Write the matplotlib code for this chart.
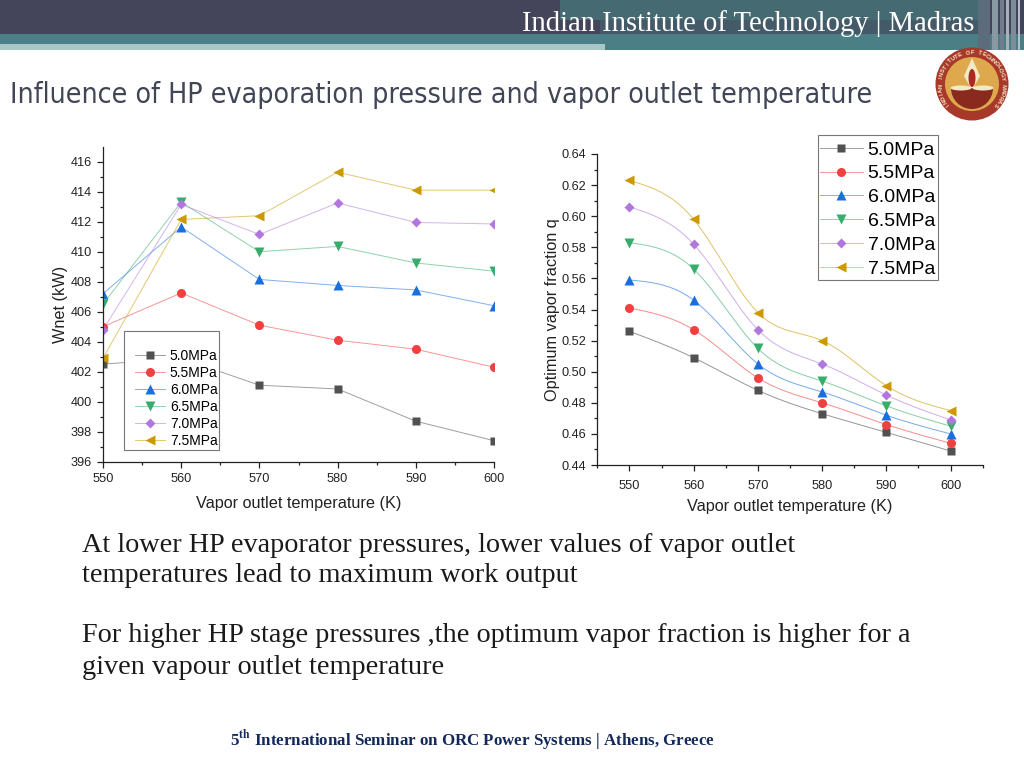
import numpy as np
import matplotlib
matplotlib.use('Agg')
import matplotlib.pyplot as plt
from matplotlib.colors import to_rgba
from matplotlib.patches import Rectangle, Ellipse, Wedge, Polygon

temps = [550, 560, 570, 580, 590, 600]
labels = ['5.0MPa', '5.5MPa', '6.0MPa', '6.5MPa', '7.0MPa', '7.5MPa']
colors = ['#515151', '#F14040', '#1A6FDF', '#37AD6B', '#B177DE', '#CC9900']
markers = ['s', 'o', '^', 'v', 'D', '<']
sizes = [5.5, 6.5, 6.5, 6.5, 5.5, 6.5]

# left chart, net work
wnet_50 = [402.5, 402.9, 401.1, 400.85, 398.7, 397.4]
wnet_55 = [405.0, 407.25, 405.1, 404.1, 403.5, 402.3]
wnet_60 = [407.2, 411.65, 408.15, 407.75, 407.45, 406.4]
wnet_65 = [406.5, 413.3, 410.0, 410.35, 409.25, 408.7]
wnet_70 = [404.8, 413.15, 411.15, 413.25, 411.95, 411.85]
wnet_75 = [402.9, 412.15, 412.4, 415.3, 414.1, 414.1]
wnet = [wnet_50, wnet_55, wnet_60, wnet_65, wnet_70, wnet_75]

# right chart, optimum vapor fraction
q_50 = [0.526, 0.509, 0.488, 0.473, 0.461, 0.449]
q_55 = [0.541, 0.527, 0.496, 0.480, 0.466, 0.454]
q_60 = [0.559, 0.546, 0.505, 0.487, 0.472, 0.460]
q_65 = [0.583, 0.566, 0.515, 0.494, 0.478, 0.465]
q_70 = [0.606, 0.582, 0.527, 0.505, 0.485, 0.469]
q_75 = [0.623, 0.598, 0.538, 0.520, 0.491, 0.475]
q = [q_50, q_55, q_60, q_65, q_70, q_75]

W, H = 1024, 768
SANS = 'Liberation Sans'
SERIF = 'Liberation Serif'


def px_axes(fig, left, right, top, bottom):
    return fig.add_axes([left / W, 1 - bottom / H, (right - left) / W, (bottom - top) / H])


def spline(x, y, n=200):
    # natural cubic spline for the smoothed lines of the right chart
    x = np.array(x, float)
    y = np.array(y, float)
    h = np.diff(x)
    A = np.zeros((len(x), len(x)))
    b = np.zeros(len(x))
    A[0, 0] = A[-1, -1] = 1
    for i in range(1, len(x) - 1):
        A[i, i - 1:i + 2] = h[i - 1], 2 * (h[i - 1] + h[i]), h[i]
        b[i] = 6 * ((y[i + 1] - y[i]) / h[i] - (y[i] - y[i - 1]) / h[i - 1])
    m = np.linalg.solve(A, b)
    xs = np.linspace(x[0], x[-1], n)
    k = np.clip(np.searchsorted(x, xs) - 1, 0, len(h) - 1)
    t0 = x[k + 1] - xs
    t1 = xs - x[k]
    ys = (m[k] * t0**3 + m[k + 1] * t1**3) / (6 * h[k]) \
        + (y[k] / h[k] - m[k] * h[k] / 6) * t0 + (y[k + 1] / h[k] - m[k + 1] * h[k] / 6) * t1
    return xs, ys


def style_axis(ax):
    ax.spines['top'].set_visible(False)
    ax.spines['right'].set_visible(False)
    for s in ['left', 'bottom']:
        ax.spines[s].set_linewidth(0.9)
        ax.spines[s].set_color('#222222')
    ax.tick_params(which='major', length=4.5, width=0.9, color='#222222', labelsize=9.2, labelcolor='#222222')
    ax.tick_params(which='minor', length=2.5, width=0.9, color='#222222')
    for t in ax.get_xticklabels() + ax.get_yticklabels():
        t.set_fontfamily(SANS)


def legend_box(ax, left, top, right, bottom, anchor, fontsize, **kw):
    # the legends have uneven padding, so the frame is its own rectangle
    ax.add_patch(Rectangle((left, top), right - left, bottom - top, transform=bg.transData, clip_on=False,
                           fc='white', ec='#777777', lw=0.8, zorder=4))
    leg = ax.legend(loc='upper left', bbox_to_anchor=anchor, bbox_transform=bg.transData,
                    prop={'family': SANS, 'size': fontsize}, frameon=False, borderaxespad=0, borderpad=0, **kw)
    leg.set_zorder(5)


fig = plt.figure(figsize=(W / 100, H / 100), dpi=100, facecolor='white')

# slide decoration, drawn in pixel coordinates
bg = fig.add_axes([0, 0, 1, 1])
bg.set_xlim(0, W)
bg.set_ylim(H, 0)
bg.axis('off')
bg.add_patch(Rectangle((0, 0), W, 34, fc='#44445A', ec='none'))
bg.add_patch(Rectangle((560, 0), 418, 20, fc='#466A72', ec='none'))
bg.add_patch(Rectangle((600, 20), 378, 14, fc='#445A68', ec='none'))
bg.add_patch(Rectangle((0, 34), W, 16, fc='#4A7F86', ec='none'))
bg.add_patch(Rectangle((0, 44), 605, 6, fc='#A9C5C6', ec='none'))
for x0, w, c in [(978, 12, '#5D6C7C'), (992, 6, '#8A98A4'), (1000, 4, '#6E7E8C'),
                 (1006, 3, '#A5B2BA'), (1011, 5, '#7C8C98'), (1018, 2, '#B5C0C6')]:
    bg.add_patch(Rectangle((x0, 0), w, 50, fc=c, ec='none'))

bg.text(748.5, 30.7, 'Indian Institute of Technology | Madras', family=SERIF, fontsize=20.6,
        color='white', ha='center', va='baseline')
bg.text(10, 95, 'Influence of HP evaporation pressure and vapor outlet temperature',
        family='DejaVu Sans', stretch='condensed', fontsize=20.4, color='#404656', ha='left', va='center')

# institute emblem
cx, cy = 972, 84
bg.add_patch(Ellipse((cx, cy), 73, 73, fc='#A8392A', ec='none'))
bg.add_patch(Ellipse((cx, cy), 54, 54, fc='#DDA94C', ec='none'))
bg.add_patch(Polygon([(cx, cy - 26), (cx - 8, cy - 8), (cx, cy + 6), (cx + 8, cy - 8)], fc='#F3E8C8', ec='none'))
bg.add_patch(Ellipse((cx, cy - 6), 7, 18, fc='#A82A20', ec='none'))
bg.add_patch(Wedge((cx, cy + 4), 21, 0, 180, fc='#8A2A1E', ec='none'))
bg.add_patch(Ellipse((cx - 11, cy + 4), 21, 5, fc='#F3E8C8', ec='none'))
bg.add_patch(Ellipse((cx + 11, cy + 4), 21, 5, fc='#F3E8C8', ec='none'))
ring = 'INDIAN INSTITUTE OF TECHNOLOGY MADRAS'
angles = np.linspace(-130, 130, len(ring))
for ch, a in zip(ring, angles):
    r = np.deg2rad(a)
    bg.text(cx + 31.5 * np.sin(r), cy - 31.5 * np.cos(r), ch, fontsize=4.2, family=SANS, weight='bold',
            color='#F3E6C8', ha='center', va='center', rotation=-a)

body = '#1A1A1A'
bg.text(82, 545, 'At lower HP evaporator pressures, lower values of vapor outlet', family=SERIF,
        fontsize=20.3, color=body, va='center')
bg.text(82, 575, 'temperatures lead to maximum work output', family=SERIF,
        fontsize=20.3, color=body, va='center')
bg.text(82, 636, 'For higher HP stage pressures ,the optimum vapor fraction is higher for a', family=SERIF,
        fontsize=20.3, color=body, va='center')
bg.text(82, 667, 'given vapour outlet temperature', family=SERIF,
        fontsize=20.3, color=body, va='center')
bg.text(472.5, 741, r'5$^{\mathbf{th}}$ International Seminar on ORC Power Systems | Athens, Greece', family=SERIF,
        fontsize=12.2, weight='bold', color='#14285A', ha='center', va='center',
        math_fontfamily='stix')

# left chart
ax1 = px_axes(fig, 103, 494, 146.7, 461.7)
ax1.patch.set_alpha(0)
for i in range(6):
    ax1.plot(temps, wnet[i], color=to_rgba(colors[i], 0.55), lw=0.7, marker=markers[i], ms=sizes[i],
             mfc=colors[i], mec='none', label=labels[i])
ax1.set_xlim(550, 600)
ax1.set_ylim(396, 417)
ax1.set_xticks(temps)
ax1.set_xticks([555, 565, 575, 585, 595], minor=True)
ax1.set_yticks(np.arange(396, 417, 2))
ax1.set_yticks(np.arange(397, 417, 2), minor=True)
style_axis(ax1)
ax1.set_xlabel('Vapor outlet temperature (K)', family=SANS, fontsize=11.7, color='#222222', labelpad=8)
ax1.set_ylabel('Wnet (kW)', family=SANS, fontsize=11.7, color='#222222', labelpad=2)
legend_box(ax1, 124, 331, 219, 450, (135, 349), 10, labelspacing=0.22, handlelength=2.15, handletextpad=0.36)

# right chart
ax2 = px_axes(fig, 597.3, 982.7, 154, 465)
ax2.patch.set_alpha(0)
for i in range(6):
    xs, ys = spline(temps, q[i])
    ax2.plot(xs, ys, color=to_rgba(colors[i], 0.6), lw=0.7, zorder=2)
    ax2.plot(temps, q[i], ls='none', marker=markers[i], ms=sizes[i], color=colors[i], mec='none', zorder=3)
    ax2.plot([], [], color=to_rgba(colors[i], 0.55), lw=0.7, marker=markers[i], ms=sizes[i],
             mfc=colors[i], mec='none', label=labels[i])
ax2.set_xlim(545, 605)
ax2.set_ylim(0.44, 0.64)
ax2.set_xticks(temps)
ax2.set_xticks([545, 555, 565, 575, 585, 595, 605], minor=True)
ax2.set_yticks(np.arange(0.44, 0.641, 0.02))
ax2.set_yticks(np.arange(0.45, 0.64, 0.02), minor=True)
ax2.yaxis.set_major_formatter('{x:.2f}')
style_axis(ax2)
ax2.tick_params(axis='x', pad=6)
ax2.set_xlabel('Vapor outlet temperature (K)', family=SANS, fontsize=11.7, color='#222222', labelpad=5)
ax2.set_ylabel('Optimum vapor fraction q', family=SANS, fontsize=11.7, color='#222222', labelpad=1)
legend_box(ax2, 817.5, 135, 937.5, 280, (820, 141), 14, labelspacing=0.32, handlelength=2.2, handletextpad=0.25)

fig.savefig('out.png', dpi=100)
